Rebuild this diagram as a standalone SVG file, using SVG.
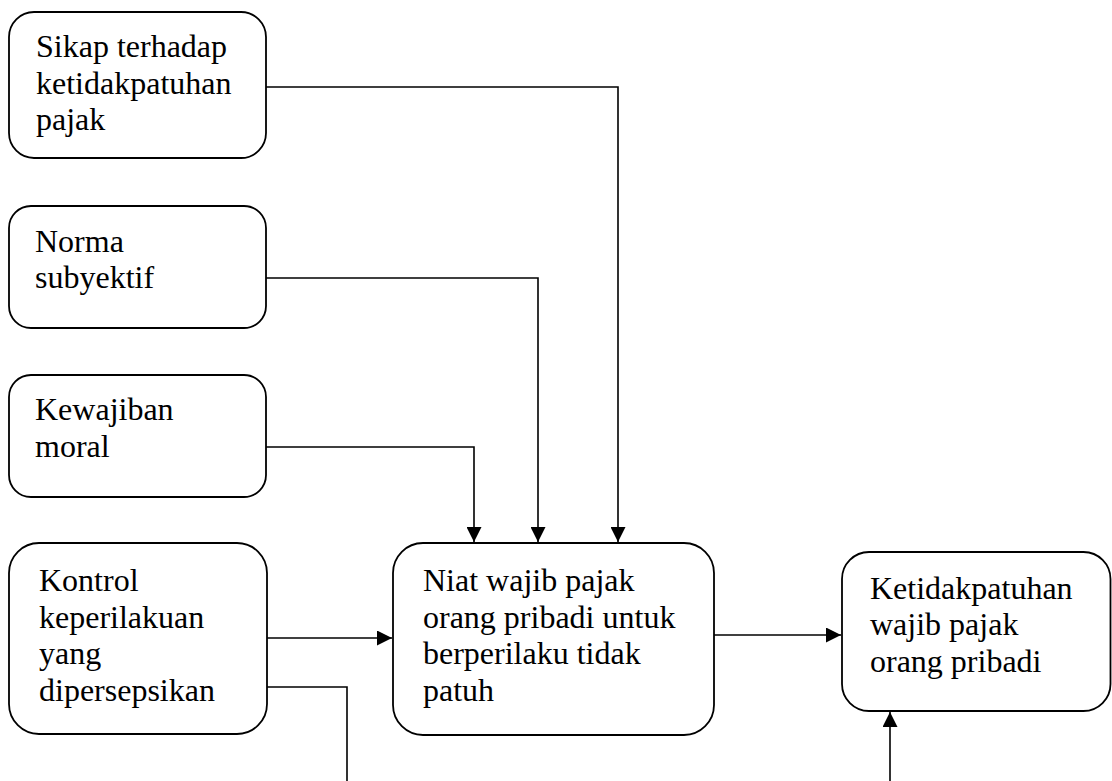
<svg xmlns="http://www.w3.org/2000/svg" width="1112" height="781" viewBox="0 0 1112 781">
<style>
.box{fill:#fff;stroke:#000;stroke-width:1.8}
.t{font-family:"Liberation Serif","Times New Roman",serif;font-size:32px;fill:#000}
.c{fill:none;stroke:#000;stroke-width:1.6}
</style>
<defs>
<marker id="ah" viewBox="0 0 10 10" refX="10" refY="5" markerWidth="15" markerHeight="15" markerUnits="userSpaceOnUse" orient="auto">
<path d="M0,0 L10,5 L0,10 z" fill="#000"/>
</marker>
</defs>
<rect width="1112" height="781" fill="#fff"/>
<g id="connectors">
<path class="c" d="M266,87 H618 V542" marker-end="url(#ah)"/>
<path class="c" d="M266,278 H538 V542" marker-end="url(#ah)"/>
<path class="c" d="M266,447 H474 V542" marker-end="url(#ah)"/>
<path class="c" d="M267,638 H392" marker-end="url(#ah)"/>
<path class="c" d="M267,687 H347 V790"/>
<path class="c" d="M714,635 H841" marker-end="url(#ah)"/>
<path class="c" d="M890,790 V712" marker-end="url(#ah)"/>
</g>
<g id="sikap">
<rect class="box" x="9" y="12" width="257" height="146" rx="25" ry="25"/>
<text class="t" x="36" y="57">Sikap terhadap</text>
<text class="t" x="36" y="94">ketidakpatuhan</text>
<text class="t" x="36" y="130">pajak</text>
</g>
<g id="norma">
<rect class="box" x="9" y="206" width="257" height="122" rx="22" ry="22"/>
<text class="t" x="35" y="252">Norma</text>
<text class="t" x="35" y="288">subyektif</text>
</g>
<g id="kewajiban">
<rect class="box" x="9" y="375" width="257" height="122" rx="22" ry="22"/>
<text class="t" x="35" y="420">Kewajiban</text>
<text class="t" x="35" y="457">moral</text>
</g>
<g id="kontrol">
<rect class="box" x="9" y="543" width="258" height="191" rx="30" ry="30"/>
<text class="t" x="39" y="591">Kontrol</text>
<text class="t" x="39" y="628">keperilakuan</text>
<text class="t" x="39" y="664">yang</text>
<text class="t" x="39" y="701">dipersepsikan</text>
</g>
<g id="niat">
<rect class="box" x="393" y="543" width="321" height="192" rx="30" ry="30"/>
<text class="t" x="423" y="591">Niat wajib pajak</text>
<text class="t" x="423" y="628">orang pribadi untuk</text>
<text class="t" x="423" y="664">berperilaku tidak</text>
<text class="t" x="423" y="701">patuh</text>
</g>
<g id="ketidakpatuhan">
<rect class="box" x="842" y="552" width="268.5" height="159" rx="27" ry="27"/>
<text class="t" x="870" y="599">Ketidakpatuhan</text>
<text class="t" x="870" y="635">wajib pajak</text>
<text class="t" x="870" y="672">orang pribadi</text>
</g>
</svg>
